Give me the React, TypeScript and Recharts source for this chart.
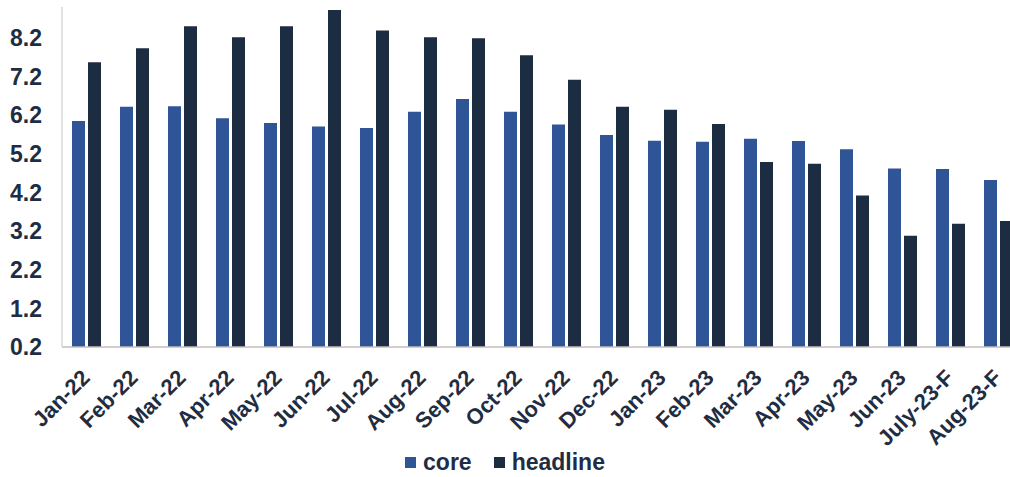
import { Bar, BarChart, Legend, XAxis, YAxis } from "recharts";

const MONTHS = [
  "Jan-22", "Feb-22", "Mar-22", "Apr-22", "May-22", "Jun-22", "Jul-22",
  "Aug-22", "Sep-22", "Oct-22", "Nov-22", "Dec-22", "Jan-23", "Feb-23",
  "Mar-23", "Apr-23", "May-23", "Jun-23", "July-23-F", "Aug-23-F"
];

const CORE = [
  6.05, 6.42, 6.43, 6.12, 6.0, 5.91, 5.87, 6.29, 6.62, 6.29,
  5.96, 5.69, 5.54, 5.51, 5.59, 5.53, 5.32, 4.82, 4.81, 4.52
];

const HEADLINE = [
  7.57, 7.93, 8.5, 8.22, 8.5, 8.92, 8.39, 8.22, 8.19, 7.75,
  7.12, 6.42, 6.34, 5.97, 4.99, 4.94, 4.12, 3.08, 3.39, 3.46
];

const Y_TICKS = [0.2, 1.2, 2.2, 3.2, 4.2, 5.2, 6.2, 7.2, 8.2];

const SERIES = [
  { key: "core", color: "#2f5597" },
  { key: "headline", color: "#1c2d42" }
];

const TEXT = "#1f2d44";
const FONT = "'Liberation Sans', Arial, sans-serif";

const data = MONTHS.map((month, i) => ({
  month,
  core: CORE[i],
  headline: HEADLINE[i]
}));

function MonthTick(props: any) {
  const { x, y, payload } = props;
  return (
    <g transform={`translate(${x - 6},${y})`}>
      <text
        textAnchor="end"
        transform="rotate(-45)"
        dy="0.71em"
        fill={TEXT}
        fontSize={22}
        fontWeight={700}
        fontFamily={FONT}
      >
        {payload.value}
      </text>
    </g>
  );
}

function LegendContent() {
  return (
    <div
      style={{
        display: "flex",
        justifyContent: "center",
        alignItems: "center",
        height: 29,
        fontFamily: FONT,
        fontWeight: 700,
        fontSize: 23,
        color: TEXT
      }}
    >
      {SERIES.map((s) => (
        <div
          key={s.key}
          style={{ display: "flex", alignItems: "center", margin: "0 11px" }}
        >
          <span
            style={{
              width: 11,
              height: 11,
              background: s.color,
              marginRight: 7,
              display: "inline-block"
            }}
          />
          <span>{s.key}</span>
        </div>
      ))}
    </div>
  );
}

export default function App() {
  return (
    <div
      style={{
        position: "absolute",
        left: 0,
        top: 0,
        width: 1010,
        height: 477,
        overflow: "hidden",
        background: "#fff"
      }}
    >
      <BarChart
        width={1030}
        height={477}
        data={data}
        margin={{ top: 7, right: 8, bottom: 0, left: 0 }}
        barSize={13}
        barGap={3}
      >
        <XAxis
          dataKey="month"
          interval={0}
          height={101}
          tickLine={false}
          tickSize={0}
          tickMargin={21}
          axisLine={{ stroke: "#bfbfbf", strokeWidth: 1.5 }}
          tick={<MonthTick />}
        />
        <YAxis
          domain={[0.2, 9.0]}
          ticks={Y_TICKS}
          allowDataOverflow
          width={62}
          tickLine={false}
          tickSize={0}
          tickMargin={20}
          axisLine={{ stroke: "#d9d9d9", strokeWidth: 1.5 }}
          tickFormatter={(v: number) => v.toFixed(1)}
          tick={{ fill: TEXT, fontSize: 23, fontWeight: 700, fontFamily: FONT }}
        />
        <Legend
          verticalAlign="bottom"
          content={<LegendContent />}
          wrapperStyle={{ left: 0, width: 1010 }}
        />
        {SERIES.map((s) => (
          <Bar
            key={s.key}
            dataKey={s.key}
            fill={s.color}
            isAnimationActive={false}
          />
        ))}
      </BarChart>
    </div>
  );
}
